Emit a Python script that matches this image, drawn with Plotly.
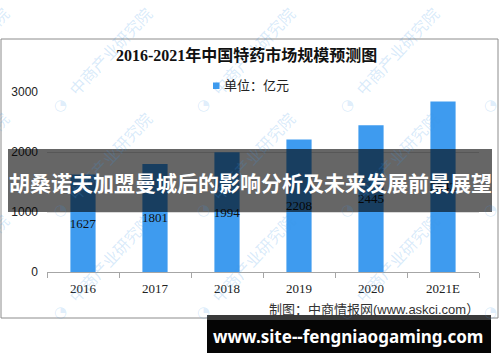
import plotly.graph_objects as go

years = ["2016", "2017", "2018", "2019", "2020", "2021E"]
values = [1627, 1801, 1994, 2208, 2445, 2842]
y_ticks = [0, 1000, 2000, 3000]

title_text = "2016-2021年中国特药市场规模预测图"
legend_text = "单位：亿元"
source_text = "制图：中商情报网(www.askci.com）"
banner_text = "胡桑诺夫加盟曼城后的影响分析及未来发展前景展望"
site_text = "www.site--fengniaogaming.com"
watermark_text = "中商产业研究院"

W, H = 500, 362
L, R, T, B = 47, 479, 92, 272


def px(x):
    return (x - L) / (R - L)


def py(y):
    return (B - y) / (B - T)


BLUE = "#3E9BEF"
SERIF = "Liberation Serif, Noto Sans CJK SC"
SANS = "Liberation Sans, Noto Sans CJK SC"

fig = go.Figure()
fig.add_trace(go.Bar(
    x=years, y=values, width=0.35,
    marker=dict(color=BLUE, line=dict(width=0)),
    text=[str(v) for v in values], textposition="inside",
    insidetextanchor="middle", textangle=0, constraintext="none",
    textfont=dict(family=SERIF, size=13, color="#111"),
    showlegend=False,
))

shapes = []
annotations = []


def ann(x, y, text, font, xanchor="center", yanchor="middle", **kw):
    d = dict(x=px(x), y=py(y), xref="paper", yref="paper", text=text,
             showarrow=False, xanchor=xanchor, yanchor=yanchor, font=font)
    d.update(kw)
    return d


# watermarks (logo dot + text)
for wy in [105, 210, 312]:
    for wx in [-83, 60, 203, 347, 490]:
        annotations.append(ann(wx + 50, wy - 54, watermark_text,
                               dict(family="Noto Sans CJK SC", size=16, color="rgba(60,150,230,0.2)"),
                               textangle=-47))
        annotations.append(ann(wx, wy, "◔",
                               dict(family="DejaVu Sans", size=15, color="rgba(60,150,230,0.18)")))

# outer frame
shapes.append(dict(type="rect", xref="paper", yref="paper",
                   x0=px(1), x1=px(498), y0=py(318), y1=py(39),
                   line=dict(color="#8c8c8c", width=1), fillcolor="rgba(0,0,0,0)", layer="below"))

# legend swatch
shapes.append(dict(type="rect", xref="paper", yref="paper",
                   x0=px(213), x1=px(219.5), y0=py(89), y1=py(82.5),
                   line=dict(width=0), fillcolor=BLUE))

# banner
shapes.append(dict(type="rect", xref="paper", yref="paper",
                   x0=px(8), x1=px(492), y0=py(212), y1=py(149),
                   line=dict(width=0), fillcolor="rgba(0,0,0,0.6)", layer="above"))

# bottom site box
shapes.append(dict(type="rect", xref="paper", yref="paper",
                   x0=px(207), x1=px(491), y0=py(353), y1=py(315),
                   line=dict(width=0), fillcolor="#050505", layer="above"))
shapes.append(dict(type="rect", xref="paper", yref="paper",
                   x0=px(207), x1=px(491), y0=py(320), y1=py(315),
                   line=dict(width=0), fillcolor="#3a3a3a", layer="above"))

annotations += [
    ann(246, 55, "<b>" + title_text + "</b>", dict(family=SERIF, size=16, color="#111")),
    ann(222, 86, legend_text, dict(family=SANS, size=13, color="#222"), xanchor="left"),
    ann(481, 309, source_text, dict(family=SANS, size=13, color="#333"), xanchor="right"),
    ann(250, 182, "<b>" + banner_text + "</b>", dict(family="Noto Sans CJK SC", size=21, color="white")),
    ann(348, 336, "<b>" + site_text + "</b>", dict(family="Noto Sans", size=17, color="white")),
]

fig.update_layout(
    width=W, height=H,
    margin=dict(l=L, r=W - R, t=T, b=H - B, pad=0),
    paper_bgcolor="white", plot_bgcolor="white",
    shapes=shapes, annotations=annotations,
    bargap=0.65,
    xaxis=dict(
        type="category", showline=True, linecolor="#a6a6a6", linewidth=1,
        ticks="outside", tickson="boundaries", ticklen=5, tickcolor="#a6a6a6",
        ticklabelstandoff=4,
        tickfont=dict(family=SERIF, size=13, color="#222"),
        showgrid=False, fixedrange=True,
    ),
    yaxis=dict(
        range=[0, 3000], tickvals=y_ticks, ticktext=[str(v) for v in y_ticks],
        showgrid=True, gridcolor="#d9d9d9", gridwidth=1, zeroline=False,
        showline=False, ticks="", ticklabelstandoff=8,
        tickfont=dict(family=SANS, size=12, color="#222"),
    ),
)

fig.write_html("out.html")
